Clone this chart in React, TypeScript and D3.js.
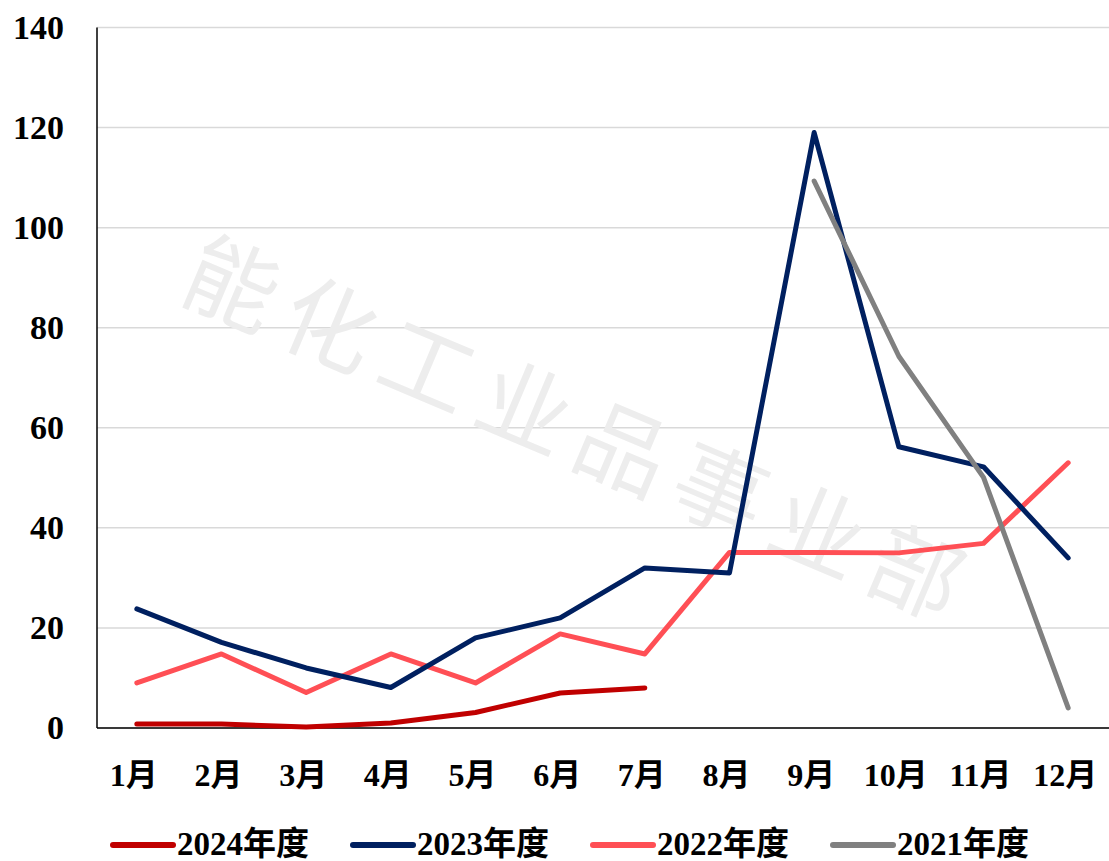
import React from "react";
import * as d3 from "d3";

const months = ["1月", "2月", "3月", "4月", "5月", "6月", "7月", "8月", "9月", "10月", "11月", "12月"];
const yTicks = [0, 20, 40, 60, 80, 100, 120, 140];

const s2024: (number | null)[] = [0.8, 0.8, 0.2, 1, 3.1, 7, 8, null, null, null, null, null];
const s2023: (number | null)[] = [23.8, 17.1, 12, 8.1, 18, 22, 32, 31, 119, 56.2, 52.2, 34];
const s2022: (number | null)[] = [9, 14.8, 7.1, 14.8, 9, 18.8, 14.8, 35.1, 35.1, 35, 36.9, 53];
const s2021: (number | null)[] = [null, null, null, null, null, null, null, null, 109.3, 74.3, 50.1, 4];

const seriesNames = ["2024年度", "2023年度", "2022年度", "2021年度"];
const seriesColors = ["#C00000", "#002060", "#FF4F55", "#808080"];
const seriesData = [s2024, s2023, s2022, s2021];

const W = 1109;
const H = 861;
const left = 97;
const right = 1109;
const top = 27.5;
const bottom = 728;

const FONT = "'Liberation Serif', 'Times New Roman', 'Noto Sans CJK SC', serif";

export default function App() {
  const x = d3.scaleBand<string>().domain(months).range([94.5, 1110.5]).padding(0);
  const y = d3.scaleLinear().domain([0, 140]).range([bottom, top]);
  const cx = (m: string) => (x(m) as number) + x.bandwidth() / 2;

  const line = d3
    .line<number | null>()
    .defined((d) => d !== null)
    .x((_, i) => cx(months[i]))
    .y((d) => y(d as number));

  const drawOrder = [2, 1, 0, 3];
  const legendX = [113, 353, 593, 833];

  return (
    <svg width={W} height={H} style={{ position: "absolute", left: 0, top: 0, background: "#fff" }}>
      <rect x={0} y={0} width={W} height={H} fill="#fff" />
      {yTicks.map((t) => (
        <line key={t} x1={left} x2={right} y1={y(t)} y2={y(t)} stroke="#D9D9D9" strokeWidth={1.5} />
      ))}
      <text
        x={583}
        y={425}
        transform="rotate(22.9 583 425)"
        textAnchor="middle"
        dominantBaseline="central"
        fontFamily="'Noto Sans CJK SC', sans-serif"
        fontWeight={400}
        fontSize={92}
        letterSpacing={14}
        fill="#EDEDED"
      >
        能化工业品事业部
      </text>
      <line x1={left} x2={left} y1={top} y2={bottom} stroke="#000" strokeWidth={1.5} />
      <line x1={left} x2={right} y1={bottom} y2={bottom} stroke="#000" strokeWidth={1.5} />
      {yTicks.map((t) => (
        <text
          key={t}
          x={64}
          y={y(t) + 11}
          textAnchor="end"
          fontFamily={FONT}
          fontWeight="bold"
          fontSize={34}
          fill="#000"
        >
          {t}
        </text>
      ))}
      {months.map((m) => (
        <text
          key={m}
          x={cx(m) - 3}
          y={786}
          textAnchor="middle"
          fontFamily={FONT}
          fontWeight="bold"
          fontSize={32}
          fill="#000"
        >
          {m}
        </text>
      ))}
      {drawOrder.map((si) => (
        <path
          key={si}
          d={line(seriesData[si]) || ""}
          fill="none"
          stroke={seriesColors[si]}
          strokeWidth={5}
          strokeLinejoin="round"
          strokeLinecap="round"
        />
      ))}
      {seriesNames.map((n, i) => (
        <g key={n}>
          <line
            x1={legendX[i]}
            x2={legendX[i] + 60}
            y1={845}
            y2={845}
            stroke={seriesColors[i]}
            strokeWidth={6}
            strokeLinecap="round"
          />
          <text
            x={legendX[i] + 64}
            y={855}
            fontFamily={FONT}
            fontWeight="bold"
            fontSize={33}
            fill="#000"
          >
            {n}
          </text>
        </g>
      ))}
    </svg>
  );
}
